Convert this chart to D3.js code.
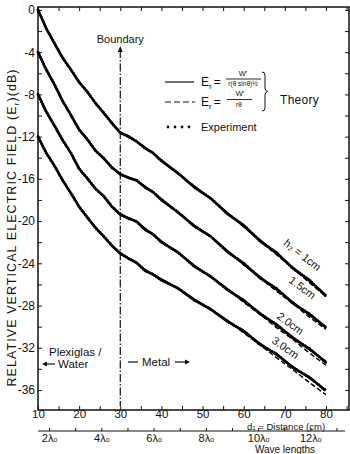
<!DOCTYPE html>
<html>
<head>
<meta charset="utf-8">
<script src="https://cdn.jsdelivr.net/npm/d3@7"></script>
<style>
    body { margin: 0; background: #fff; }
    svg { display: block; font-family: "Liberation Sans", Arial, sans-serif; }
    .ax path, .ax line { stroke: #111; }
    .ax text { font-size: 12px; fill: #111; }
</style>
</head>
<body>
<div id="chart"></div>
<script>
(function() {
    'use strict';

    // distance d1 (cm)
    var dist = [10, 12, 14, 16, 18, 20, 22, 24, 26, 28, 30, 32, 34, 36, 38, 40, 44, 48, 52, 56, 60, 64, 68, 72, 76, 80];

    // theory, solid (Er = W'/r(θ sinθ)^½), dB
    var solid1 = [0, -1.7, -3.2, -4.5, -5.7, -6.8, -7.8, -8.8, -9.8, -10.7, -11.65, -11.95, -12.5, -13.0, -13.6, -14.2, -15.5, -16.7, -17.9, -19.2, -20.5, -21.8, -23.1, -24.4, -25.7, -27.0];
    var solid2 = [-4, -5.6, -7.1, -8.6, -10.0, -11.3, -12.3, -13.3, -14.1, -14.9, -15.6, -15.85, -16.2, -16.7, -17.3, -17.9, -19.2, -20.4, -21.5, -22.8, -24.1, -25.3, -26.5, -27.7, -28.9, -30.0];
    var solid3 = [-8, -9.6, -11.0, -12.3, -13.6, -15.0, -16.0, -16.9, -17.7, -18.6, -19.4, -19.7, -20.1, -20.7, -21.3, -21.9, -23.0, -24.2, -25.3, -26.4, -27.6, -28.7, -29.9, -31.0, -32.2, -33.3];
    var solid4 = [-12, -13.5, -14.8, -16.1, -17.4, -18.6, -19.7, -20.6, -21.5, -22.3, -23.1, -23.5, -24.0, -24.6, -25.1, -25.5, -26.4, -27.4, -28.4, -29.4, -30.5, -31.6, -32.7, -33.8, -34.9, -36.0];

    // theory, dashed (Er = W'/rθ), dB
    var dashed1 = [0, -1.7, -3.2, -4.5, -5.7, -6.8, -7.8, -8.8, -9.8, -10.7, -11.65, -11.95, -12.5, -13.0, -13.6, -14.2, -15.5, -16.7, -17.9, -19.2, -20.55, -21.9, -23.2, -24.5, -25.85, -27.15];
    var dashed2 = [-4, -5.6, -7.1, -8.6, -10.0, -11.3, -12.3, -13.3, -14.1, -14.9, -15.6, -15.85, -16.2, -16.7, -17.3, -17.9, -19.2, -20.4, -21.5, -22.8, -24.15, -25.4, -26.65, -27.85, -29.1, -30.25];
    var dashed3 = [-8, -9.6, -11.0, -12.3, -13.6, -15.0, -16.0, -16.9, -17.7, -18.6, -19.4, -19.7, -20.1, -20.7, -21.3, -21.9, -23.0, -24.2, -25.3, -26.4, -27.7, -28.85, -30.1, -31.25, -32.5, -33.65];
    var dashed4 = [-12, -13.5, -14.8, -16.1, -17.4, -18.6, -19.7, -20.6, -21.5, -22.3, -23.1, -23.5, -24.0, -24.6, -25.1, -25.5, -26.4, -27.4, -28.4, -29.4, -30.6, -31.75, -32.95, -34.1, -35.3, -36.45];

    // experiment, dB
    var exp1 = [0, -1.75, -3.15, -4.55, -5.65, -6.85, -7.75, -8.85, -9.75, -10.75, -11.6, -12.0, -12.45, -13.1, -13.55, -14.3, -15.45, -16.8, -17.85, -19.3, -20.4, -21.9, -23.0, -24.5, -25.6, -27.1];
    var exp2 = [-4, -5.65, -7.05, -8.65, -9.95, -11.35, -12.25, -13.35, -14.05, -14.95, -15.55, -15.9, -16.15, -16.8, -17.25, -18.0, -19.15, -20.5, -21.45, -22.9, -24.0, -25.4, -26.4, -27.8, -28.8, -30.1];
    var exp3 = [-8, -9.65, -10.95, -12.35, -13.55, -15.05, -15.95, -16.95, -17.65, -18.65, -19.35, -19.75, -20.05, -20.8, -21.25, -22.0, -22.95, -24.3, -25.25, -26.5, -27.5, -28.8, -29.8, -31.1, -32.1, -33.4];
    var exp4 = [-12, -13.55, -14.75, -16.15, -17.35, -18.65, -19.65, -20.65, -21.45, -22.35, -23.05, -23.55, -23.95, -24.7, -25.05, -25.6, -26.35, -27.5, -28.35, -29.5, -30.4, -31.7, -32.6, -33.9, -34.8, -36.1];

    var heights = ["h₂ = 1cm", "1.5cm", "2.0cm", "3.0cm"];

    // ticks
    var xTicks = [10, 20, 30, 40, 50, 60, 70, 80];
    var xMinor = [15, 25, 35, 45, 55, 65, 75, 85];
    var yTicks = [0, -4, -8, -12, -16, -20, -24, -28, -32, -36];
    var yMinor = [-2, -6, -10, -14, -18, -22, -26, -30, -34];
    var lamTicks = [2, 3, 4, 5, 6, 7, 8, 9, 10, 11, 12, 13];
    var lambda0 = 6.35; // cm

    var W = 350, H = 454;
    var left = 38, right = 349, top = 7, bottom = 410;

    var svg = d3.select("#chart").append("svg").attr("width", W).attr("height", H);

    var x = d3.scaleLinear().domain([10, 85.6]).range([left, right]);
    var y = d3.scaleLinear().domain([-37.9, 0.28]).range([bottom, top]);
    var xl = d3.scaleLinear().domain([10 / lambda0, 85.6 / lambda0]).range([left, right]);

    // axes
    var gx = svg.append("g").attr("class", "ax").attr("transform", "translate(0," + bottom + ")")
        .call(d3.axisBottom(x).tickValues(xTicks.concat(xMinor)).tickSizeInner(-4).tickSizeOuter(0).tickPadding(0)
            .tickFormat(function(d) { return xTicks.indexOf(d) >= 0 ? d : ""; }));
    gx.select(".domain").remove();
    gx.selectAll("text").style("font-size", "11.5px");
    svg.append("g").attr("class", "ax").attr("transform", "translate(0," + top + ")")
        .call(d3.axisTop(x).tickValues(xTicks.concat(xMinor)).tickSizeInner(-4).tickSizeOuter(0).tickFormat(""))
        .select(".domain").remove();
    var gy = svg.append("g").attr("class", "ax").attr("transform", "translate(" + left + ",0)")
        .call(d3.axisLeft(y).tickValues(yTicks.concat(yMinor)).tickSizeInner(-4).tickSizeOuter(0).tickPadding(3)
            .tickFormat(function(d) { return yTicks.indexOf(d) >= 0 ? (d === 0 ? "0" : "-" + Math.abs(d)) : ""; }));
    gy.select(".domain").remove();
    svg.append("g").attr("class", "ax").attr("transform", "translate(" + right + ",0)")
        .call(d3.axisRight(y).tickValues(yTicks.concat(yMinor)).tickSizeInner(-4).tickSizeOuter(0).tickFormat(""))
        .select(".domain").remove();

    svg.append("rect").attr("x", left).attr("y", top).attr("width", right - left).attr("height", bottom - top)
        .attr("fill", "none").attr("stroke", "#111").attr("stroke-width", 1.5);

    // wave length axis
    var gl = svg.append("g").attr("class", "ax").attr("transform", "translate(0,431)")
        .call(d3.axisBottom(xl).tickValues(lamTicks).tickSizeInner(-3).tickSizeOuter(0).tickPadding(2).tickFormat(""));
    gl.select(".domain").attr("d", "M" + left + ",0H345");
    gl.selectAll(".tick").filter(function(d) { return d % 2 === 0; }).append("text")
        .attr("y", 10.5).attr("text-anchor", "middle").style("font-size", "11px")
        .each(function(d) {
            var t = d3.select(this);
            t.append("tspan").text(d + "λ");
            t.append("tspan").attr("dy", 0.5).style("font-size", "7px").text("o");
        });

    svg.append("text").attr("x", 247).attr("y", 429.5).style("font-size", "9.5px").attr("fill", "#111")
        .call(function(t) {
            t.append("tspan").text("d");
            t.append("tspan").attr("dy", 0.5).style("font-size", "6px").text("1");
            t.append("tspan").attr("dy", -0.5).text(" = Distance (cm)");
        });
    svg.append("text").attr("x", 285).attr("y", 453).attr("text-anchor", "middle")
        .style("font-size", "10px").attr("fill", "#111").text("Wave lengths");

    // y title
    svg.append("text").attr("transform", "translate(16,228) rotate(-90)").attr("text-anchor", "middle")
        .attr("textLength", 317).attr("lengthAdjust", "spacing")
        .style("font-size", "12.5px").attr("fill", "#111")
        .call(function(t) {
            t.append("tspan").text("RELATIVE VERTICAL ELECTRIC FIELD (E");
            t.append("tspan").attr("dy", 3).style("font-size", "8px").text("r");
            t.append("tspan").attr("dy", -3).text(")(dB)");
        });

    // boundary
    svg.append("line").attr("x1", x(30)).attr("x2", x(30)).attr("y1", 50).attr("y2", 406)
        .attr("stroke", "#111").attr("stroke-width", 1.2).attr("stroke-dasharray", "8 2 1.5 2");
    svg.append("path").attr("d", "M" + x(30) + ",46l-2.5,6h5z").attr("fill", "#111");
    svg.append("text").attr("x", x(30)).attr("y", 43).attr("text-anchor", "middle")
        .style("font-size", "11px").attr("fill", "#111").text("Boundary");

    // media labels
    svg.append("text").attr("x", 49).attr("y", 356).style("font-size", "11.5px").attr("fill", "#111").text("Plexiglas /");
    svg.append("text").attr("x", 58).attr("y", 368).style("font-size", "11.5px").attr("fill", "#111").text("Water");
    svg.append("path").attr("d", "M55,364H44").attr("stroke", "#111").attr("stroke-width", 1.2);
    svg.append("path").attr("d", "M42,364l5,-2.5v5z").attr("fill", "#111");
    svg.append("path").attr("d", "M128,362H138").attr("stroke", "#111").attr("stroke-width", 1.2);
    svg.append("text").attr("x", 142).attr("y", 366).style("font-size", "11.5px").attr("fill", "#111").text("Metal");
    svg.append("path").attr("d", "M175,362H186").attr("stroke", "#111").attr("stroke-width", 1.2);
    svg.append("path").attr("d", "M190,362l-5,-2.5v5z").attr("fill", "#111");

    // curves
    var line = d3.line()
        .x(function(d) { return x(d[0]); })
        .y(function(d) { return y(d[1]); })
        .curve(d3.curveMonotoneX);
    var lineExp = d3.line()
        .x(function(d) { return x(d[0]); })
        .y(function(d) { return y(d[1]); })
        .curve(d3.curveLinear);

    function pts(vals) { return dist.map(function(d, i) { return [d, vals[i]]; }); }

    var solids = [solid1, solid2, solid3, solid4];
    var dasheds = [dashed1, dashed2, dashed3, dashed4];
    var exps = [exp1, exp2, exp3, exp4];

    var curves = svg.append("g").attr("fill", "none").attr("stroke", "#000");
    curves.selectAll("path.solid").data(solids).enter().append("path").attr("class", "solid")
        .attr("d", function(v) { return line(pts(v)); }).attr("stroke-width", 1.8);
    curves.selectAll("path.dashed").data(dasheds).enter().append("path").attr("class", "dashed")
        .attr("d", function(v) { return line(pts(v)); }).attr("stroke-width", 1.4).attr("stroke-dasharray", "5 2.5");
    curves.selectAll("path.exp").data(exps).enter().append("path").attr("class", "exp")
        .attr("d", function(v) { return lineExp(pts(v)); }).attr("stroke-width", 3)
        .attr("stroke-linecap", "round").attr("stroke-dasharray", "0.4 2.2");

    // curve labels (data units)
    var labelPos = [[73.7, -23.5, 38], [73.7, -26.6, 37], [70.8, -30.0, 36], [69.6, -32.3, 35]];
    svg.selectAll("text.hlab").data(heights).enter().append("text").attr("class", "hlab")
        .attr("text-anchor", "middle").style("font-size", "11px").attr("fill", "#111")
        .attr("transform", function(d, i) {
            var p = labelPos[i];
            return "translate(" + x(p[0]) + "," + y(p[1]) + ") rotate(" + p[2] + ")";
        })
        .text(function(d) { return d; });

    // legend
    var lg = svg.append("g").attr("fill", "#111");
    lg.append("line").attr("x1", 165).attr("x2", 194).attr("y1", 82).attr("y2", 82).attr("stroke", "#111").attr("stroke-width", 1.2);
    lg.append("line").attr("x1", 165).attr("x2", 195).attr("y1", 102).attr("y2", 102).attr("stroke", "#111").attr("stroke-width", 1.2).attr("stroke-dasharray", "6 3");
    lg.selectAll("circle").data([168, 175, 182, 189]).enter().append("circle")
        .attr("cx", function(d) { return d; }).attr("cy", 127).attr("r", 1.4);

    function er(yy) {
        var t = lg.append("text").attr("x", 201).attr("y", yy).style("font-size", "12px");
        t.append("tspan").text("E");
        t.append("tspan").attr("dy", 3).style("font-size", "8px").text("r");
        t.append("tspan").attr("dy", -3).attr("dx", 2).text("=");
    }
    er(86);
    er(106);
    lg.append("text").attr("x", 243).attr("y", 76).attr("text-anchor", "middle").style("font-size", "7.5px").text("W′");
    lg.append("line").attr("x1", 226).attr("x2", 261).attr("y1", 79).attr("y2", 79).attr("stroke", "#111").attr("stroke-width", 0.9);
    lg.append("text").attr("x", 243).attr("y", 86).attr("text-anchor", "middle").style("font-size", "6.5px").text("r(θ sinθ)½");
    lg.append("text").attr("x", 240).attr("y", 96).attr("text-anchor", "middle").style("font-size", "7.5px").text("W′");
    lg.append("line").attr("x1", 227).attr("x2", 252).attr("y1", 99.5).attr("y2", 99.5).attr("stroke", "#111").attr("stroke-width", 0.9);
    lg.append("text").attr("x", 239).attr("y", 107).attr("text-anchor", "middle").style("font-size", "6.5px").text("rθ");
    lg.append("path").attr("d", "M262,72q3,0 3,3v13q0,3 2.5,3.5q-2.5,0.5 -2.5,3.5v13q0,3 -3,3")
        .attr("fill", "none").attr("stroke", "#111").attr("stroke-width", 1);
    lg.append("text").attr("x", 280).attr("y", 104).style("font-size", "12px").style("letter-spacing", "0.3px").text("Theory");
    lg.append("text").attr("x", 201).attr("y", 131).style("font-size", "11px").text("Experiment");
})();
</script>
</body>
</html>
